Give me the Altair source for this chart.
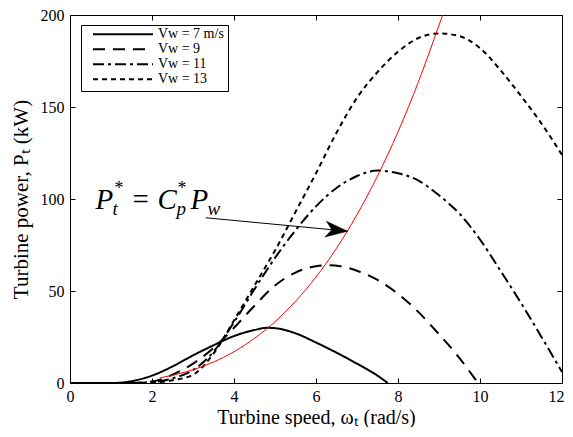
import altair as alt
import pandas as pd

# ---- data ----
omega_7 = [0, 1.0, 1.5, 2.0, 2.5, 3.0, 3.5, 4.0, 4.5, 4.8, 5.0, 5.5, 6.0, 6.5, 7.0, 7.5, 7.75]
power_7 = [0, 0, 1.0, 4.0, 9.0, 15.0, 20.5, 25.5, 28.8, 30.0, 29.8, 27.0, 22.0, 16.5, 10.5, 4.0, 0]

omega_9 = [0, 1.5, 2.0, 2.5, 3.0, 3.5, 4.0, 4.5, 5.0, 5.5, 6.0, 6.3, 6.6, 7.0, 7.5, 8.0, 8.5, 9.0, 9.5, 9.95]
power_9 = [0, 0, 0.8, 4.5, 10.5, 19, 30, 42, 53, 60, 63.5, 64, 63.5, 61, 56, 48.5, 38.5, 26.5, 13.5, 0]

omega_11 = [0, 1.5, 2.0, 2.5, 3.0, 3.5, 4.0, 4.5, 5.0, 5.5, 6.0, 6.5, 7.0, 7.5, 8.0, 8.5, 9.0, 9.5, 10.0, 10.5, 11.0, 11.5, 12.0]
power_11 = [0, 0, 0.5, 2.5, 7, 17, 33, 51, 68, 83, 96, 106, 112.5, 115.5, 114, 110, 102, 92, 78, 61, 43.5, 25, 6]

omega_13 = [0, 1.5, 2.0, 2.5, 3.0, 3.5, 4.0, 4.5, 5.0, 5.5, 6.0, 6.5, 7.0, 7.5, 8.0, 8.5, 9.0, 9.5, 10.0, 10.5, 11.0, 11.5, 12.0]
power_13 = [0, 0, 0.2, 1.5, 4.5, 16, 34, 53, 72, 93, 114, 136, 155, 169, 180, 187.5, 190, 188.5, 182, 170, 156, 141, 124]

omega_opt = [2.2, 2.5, 3.0, 3.5, 4.0, 4.5, 5.0, 5.5, 6.0, 6.5, 7.0, 7.5, 8.0, 8.5, 9.0, 9.09]
power_opt = [2.8, 4.2, 7.2, 11.4, 17.0, 24.3, 33.3, 44.4, 57.6, 73.2, 91.5, 112.5, 136.5, 163.8, 194.4, 200]

series_names = ["Vw = 7 m/s", "Vw = 9", "Vw = 11", "Vw = 13"]
x_ticks = [0, 2, 4, 6, 8, 10, 12]
y_ticks = [0, 50, 100, 150, 200]

arrow_tail = (3.31, 89.8)
arrow_head = (6.77, 82.5)
label_anchor = (0.62, 94.5)

# ---- tables ----
rows = []
for name, om, pw in zip(series_names, [omega_7, omega_9, omega_11, omega_13],
                        [power_7, power_9, power_11, power_13]):
    for o, p in zip(om, pw):
        rows.append({"series": name, "omega": o, "power": p})
df = pd.DataFrame(rows)
df_opt = pd.DataFrame({"omega": omega_opt, "power": power_opt})
df_arrow = pd.DataFrame({"x": [arrow_tail[0]], "y": [arrow_tail[1]],
                         "x2": [arrow_head[0]], "y2": [arrow_head[1]]})
df_anchor = pd.DataFrame({"x": [label_anchor[0]], "y": [label_anchor[1]]})

FONT = "Liberation Serif"
xs = alt.Scale(domain=[0, 12], nice=False, zero=False)
ys = alt.Scale(domain=[0, 200], nice=False, zero=False)
dashes = [[1, 0], [12, 8], [11, 4, 3, 4], [5, 4]]

curves = alt.Chart(df).mark_line(color="black", strokeWidth=2, interpolate="monotone", clip=True).encode(
    x=alt.X("omega:Q", scale=xs, axis=alt.Axis(
        orient="bottom", values=x_ticks, title="Turbine speed, ωₜ (rad/s)",
        offset=-5, tickSize=5, domain=False, labelPadding=5,
        labelAlign=alt.condition("datum.value == 12", alt.value("right"), alt.value("center")),
        labelOffset=alt.condition("datum.value == 12", alt.value(2), alt.value(0)),
        titleBaseline="alphabetic", titleY=45,
        labelFlush=False, labelFontSize=16, titleFontSize=20, labelFont=FONT, titleFont=FONT,
        labelColor="black", titleColor="black", tickColor="black", titleFontWeight="normal")),
    y=alt.Y("power:Q", scale=ys, axis=alt.Axis(
        orient="left", values=y_ticks, title="Turbine power, Pₜ (kW)",
        offset=-5, tickSize=5, domain=False, labelPadding=6, titlePadding=9,
        labelFlush=False, labelFontSize=16, titleFontSize=21, labelFont=FONT, titleFont=FONT,
        labelColor="black", titleColor="black", tickColor="black", titleFontWeight="normal")),
    strokeDash=alt.StrokeDash("series:N", scale=alt.Scale(domain=series_names, range=dashes),
        legend=alt.Legend(
            title=None, orient="none", legendX=11, legendY=10,
            strokeColor="black", fillColor="white", padding=4,
            symbolType="stroke", symbolSize=3600, symbolStrokeWidth=2,
            symbolStrokeColor="black", symbolOffset=7, clipHeight=10.5, rowPadding=0,
            labelFont=FONT, labelFontSize=14, labelColor="black", labelOffset=4)),
)

opt = alt.Chart(df_opt).mark_line(color="#ff0000", strokeWidth=1, interpolate="monotone", clip=True).encode(
    x=alt.X("omega:Q", scale=xs, axis=alt.Axis(
        orient="top", values=x_ticks, title=None, labels=False, offset=-5, tickSize=5,
        domain=False, tickColor="black")),
    y=alt.Y("power:Q", scale=ys, axis=alt.Axis(
        orient="right", values=y_ticks, title=None, labels=False, offset=-5, tickSize=5,
        domain=False, tickColor="black")),
)

arrow_line = alt.Chart(df_arrow).mark_rule(color="black", strokeWidth=1).encode(
    x=alt.X("x:Q", scale=xs, axis=None), y=alt.Y("y:Q", scale=ys, axis=None),
    x2="x2:Q", y2="y2:Q")

head_shape = "M0,0 L-1,-0.36 L-0.72,0 L-1,0.36 Z"
arrow_tip = alt.Chart(df_arrow).mark_point(
    shape=head_shape, filled=True, fill="black", stroke="black", strokeWidth=0.5,
    opacity=1, size=1936, angle=5.4).encode(
    x=alt.X("x2:Q", scale=xs, axis=None), y=alt.Y("y2:Q", scale=ys, axis=None))

# annotation pieces: text, dx, dy, size, italic
pieces = [
    ("P", 0, 0, 29, True),
    ("*", 19, -15, 18, False),
    ("t", 17, 6, 19, True),
    ("=", 37, 0, 29, False),
    ("C", 62, 0, 29, True),
    ("*", 82, -15, 18, False),
    ("p", 81, 6, 19, True),
    ("P", 95, 0, 29, True),
    ("w", 112, 6, 19, True),
]
ann = []
for txt, dx, dy, sz, it in pieces:
    ann.append(alt.Chart(df_anchor).mark_text(
        text=txt, dx=dx, dy=dy, fontSize=sz, font=FONT, align="left", baseline="alphabetic",
        fontStyle="italic" if it else "normal", color="black").encode(
        x=alt.X("x:Q", scale=xs, axis=None), y=alt.Y("y:Q", scale=ys, axis=None)))

chart = alt.layer(curves, opt, arrow_line, arrow_tip, *ann).resolve_axis(
    x="independent", y="independent"
).properties(
    width=492, height=368,
    autosize=alt.AutoSizeParams(type="none"),
    padding={"left": 62, "top": 7, "right": 3, "bottom": 44},
).configure_view(stroke="black", strokeWidth=1).configure_axis(grid=False)

chart.save("out.html", embed_options={"renderer": "svg", "actions": False})
